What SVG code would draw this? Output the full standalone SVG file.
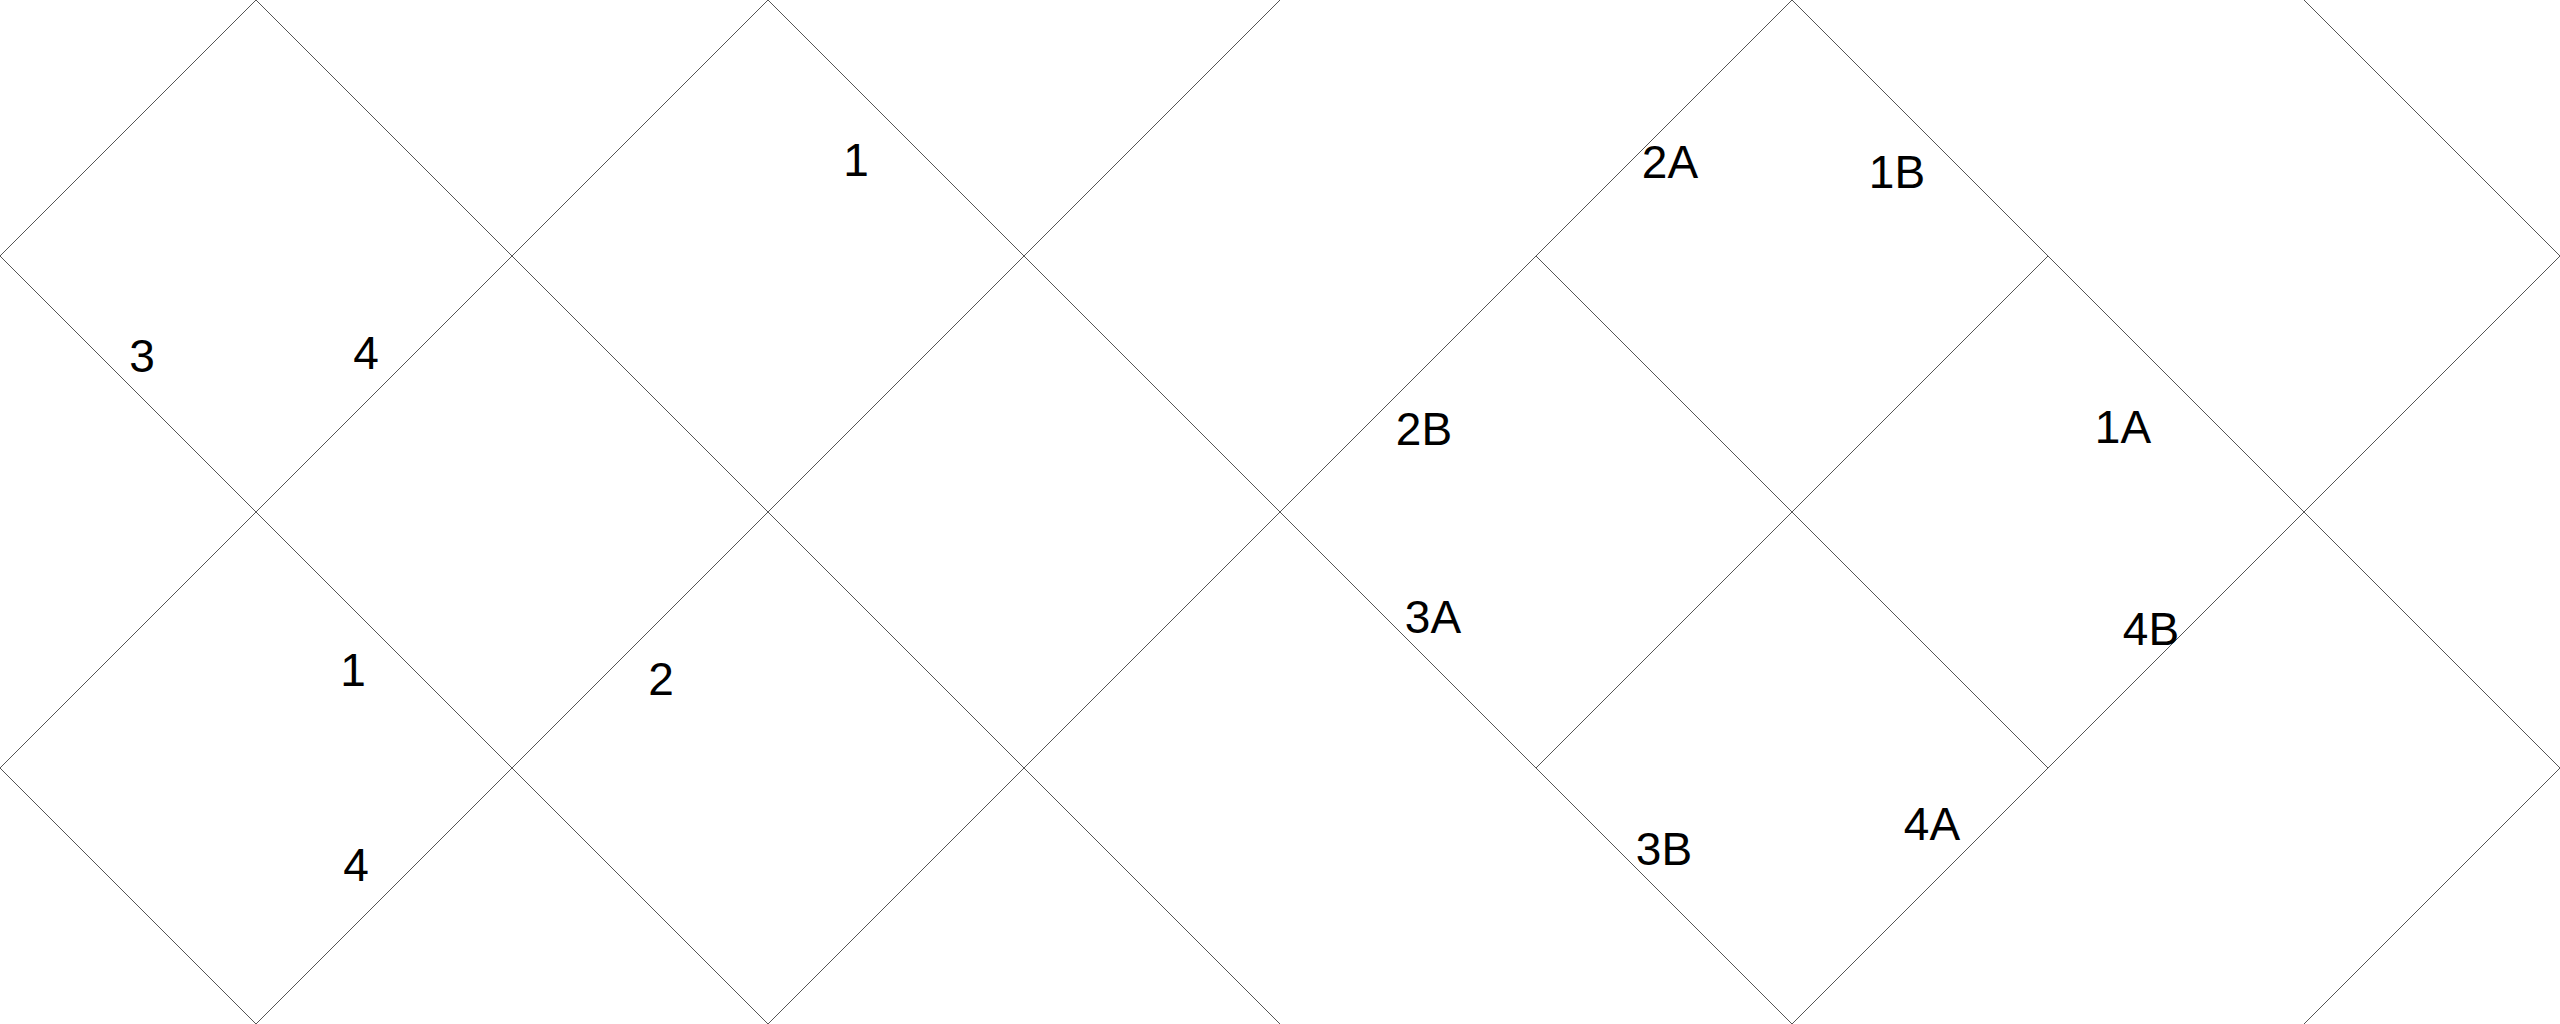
<svg xmlns="http://www.w3.org/2000/svg" width="2560" height="1024" viewBox="0 0 2560 1024">
<style>
.ln{stroke:#555;stroke-width:1;fill:none}
.lb{font-family:"Liberation Sans","DejaVu Sans",sans-serif;font-size:46px;fill:#000;text-anchor:middle}
</style>
<rect width="2560" height="1024" fill="#fff"/>
<g id="grid">
<line class="ln" x1="0" y1="256" x2="256" y2="0"/>
<line class="ln" x1="256" y1="0" x2="1280" y2="1024"/>
<line class="ln" x1="0" y1="256" x2="768" y2="1024"/>
<line class="ln" x1="0" y1="768" x2="256" y2="1024"/>
<line class="ln" x1="0" y1="768" x2="768" y2="0"/>
<line class="ln" x1="256" y1="1024" x2="1280" y2="0"/>
<line class="ln" x1="768" y1="0" x2="1792" y2="1024"/>
<line class="ln" x1="768" y1="1024" x2="1792" y2="0"/>
<line class="ln" x1="1792" y1="0" x2="2560" y2="768"/>
<line class="ln" x1="1536" y1="256" x2="2048" y2="768"/>
<line class="ln" x1="1536" y1="768" x2="2048" y2="256"/>
<line class="ln" x1="1792" y1="1024" x2="2560" y2="256"/>
<line class="ln" x1="2304" y1="0" x2="2560" y2="256"/>
<line class="ln" x1="2304" y1="1024" x2="2560" y2="768"/>
</g>
<g id="labels">
<text class="lb" x="142" y="372">3</text>
<text class="lb" x="366" y="369">4</text>
<text class="lb" x="856" y="176">1</text>
<text class="lb" x="353" y="686">1</text>
<text class="lb" x="661" y="695">2</text>
<text class="lb" x="356" y="881">4</text>
<text class="lb" x="1670" y="178">2A</text>
<text class="lb" x="1897" y="188">1B</text>
<text class="lb" x="1424" y="445">2B</text>
<text class="lb" x="2123" y="443">1A</text>
<text class="lb" x="1433" y="633">3A</text>
<text class="lb" x="2151" y="645">4B</text>
<text class="lb" x="1664" y="865">3B</text>
<text class="lb" x="1932" y="840">4A</text>
</g>
</svg>
